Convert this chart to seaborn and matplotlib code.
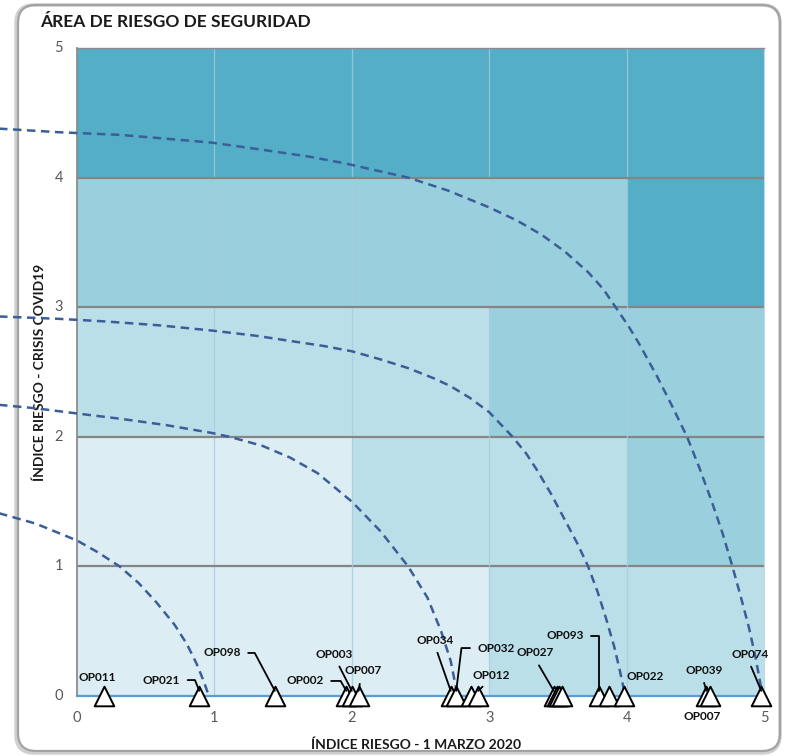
import matplotlib
matplotlib.use("Agg")
import matplotlib.pyplot as plt
import numpy as np
import pandas as pd
import seaborn as sns
from matplotlib.colors import ListedColormap
from matplotlib.patches import FancyBboxPatch

# ---------------- data ----------------
title = "ÁREA DE RIESGO DE SEGURIDAD"
x_label = "ÍNDICE RIESGO - 1 MARZO 2020"
y_label = "ÍNDICE RIESGO - CRISIS COVID19"
tick_values = [0, 1, 2, 3, 4, 5]

# risk level of each cell, rows from bottom (y 0-1) to top (y 4-5), columns x 0-1 ... 4-5
risk_levels = [
    [0, 0, 0, 1, 1],
    [0, 0, 1, 1, 2],
    [1, 1, 1, 2, 2],
    [2, 2, 2, 2, 3],
    [3, 3, 3, 3, 3],
]
level_colors = ["#DCEDF4", "#BBDFE9", "#9AD0DE", "#54AEC8"]

# operations (triangles), all with COVID index 0
op_labels = ["OP011", "OP021", "OP098", "OP002", "OP003", "OP007",
             "OP034", "OP032", "", "OP012",
             "OP027", "", "", "",
             "OP093", "", "OP022",
             "OP039", "OP007", "OP074"]
op_x = [0.20, 0.89, 1.44, 1.96, 2.00, 2.05,
        2.72, 2.76, 2.87, 2.92,
        3.47, 3.49, 3.51, 3.53,
        3.80, 3.87, 3.98,
        4.58, 4.61, 4.98]
op_y = [0.0] * len(op_x)

# iso-risk dashed curves
curve1_x = [-0.60, -0.13, 0.31, 0.65, 0.98, 1.38, 1.70, 1.95, 2.20, 2.41, 2.70, 3.00, 3.20, 3.38,
            3.55, 3.72, 3.83, 3.92, 4.01, 4.09, 4.22, 4.33, 4.44, 4.53, 4.62, 4.70, 4.77, 4.83,
            4.89, 4.94, 4.99]
curve1_y = [4.38, 4.35, 4.33, 4.30, 4.27, 4.21, 4.16, 4.11, 4.05, 4.00, 3.90, 3.77, 3.67, 3.56,
            3.43, 3.27, 3.14, 3.00, 2.86, 2.72, 2.47, 2.24, 2.00, 1.76, 1.50, 1.25, 1.00, 0.77,
            0.53, 0.29, 0.00]
curve2_x = [-0.60, -0.13, 0.21, 0.60, 0.98, 1.30, 1.55, 1.80, 2.00, 2.20, 2.41, 2.60, 2.72, 2.86,
            3.00, 3.17, 3.27, 3.35, 3.45, 3.55, 3.64, 3.72, 3.79, 3.85, 3.91, 3.95, 3.99]
curve2_y = [2.93, 2.91, 2.89, 2.86, 2.82, 2.78, 2.74, 2.70, 2.66, 2.60, 2.53, 2.45, 2.39, 2.30,
            2.19, 2.00, 1.87, 1.74, 1.56, 1.36, 1.18, 1.00, 0.80, 0.60, 0.38, 0.20, 0.00]
curve3_x = [-0.60, -0.30, 0.00, 0.31, 0.65, 0.98, 1.11, 1.35, 1.55, 1.75, 2.00, 2.21, 2.41, 2.55,
            2.65, 2.72, 2.77]
curve3_y = [2.25, 2.22, 2.18, 2.14, 2.09, 2.03, 2.00, 1.93, 1.84, 1.72, 1.50, 1.27, 1.00, 0.76,
            0.50, 0.27, 0.00]
curve4_x = [-0.60, -0.30, 0.00, 0.15, 0.31, 0.45, 0.58, 0.71, 0.80, 0.87, 0.92, 0.96]
curve4_y = [1.42, 1.33, 1.20, 1.11, 1.00, 0.87, 0.72, 0.55, 0.40, 0.25, 0.12, 0.00]

# ---------------- layout (label placement) ----------------
# index: (text x, text y, connection style or None, relpos)
label_layout = {
    0: (0.146, 0.139, None, None),
    1: (0.615, 0.123, "angle,angleA=0,angleB=112,rad=0", (1.0, 0.5)),
    2: (1.055, 0.332, "angle,angleA=0,angleB=118,rad=0", (1.0, 0.5)),
    3: (1.660, 0.116, "angle,angleA=0,angleB=120,rad=0", (1.0, 0.5)),
    4: (1.870, 0.324, "arc3", (0.55, 0.0)),
    5: (2.080, 0.193, "arc3", (0.45, 0.0)),
    6: (2.605, 0.432, "arc3", (0.5, 0.0)),
    7: (3.050, 0.370, "angle,angleA=0,angleB=83,rad=0", (0.0, 0.5)),
    9: (3.013, 0.162, "arc3", (0.45, 0.0)),
    10: (3.333, 0.332, "arc3", (0.5, 0.0)),
    14: (3.552, 0.463, "angle,angleA=0,angleB=90,rad=0", (1.0, 0.5)),
    16: (4.134, 0.147, None, None),
    17: (4.563, 0.200, "arc3", (0.45, 0.0)),
    18: (4.549, -0.162, None, None),
    19: (4.898, 0.324, "arc3", (0.45, 0.0)),
}

# ---------------- figure ----------------
sns.set_style("white")
plt.rcParams["font.family"] = ["Lato", "DejaVu Sans"]
plt.rcParams["lines.dashed_pattern"] = [3.4, 2.2]

W, H = 785, 756
fig = plt.figure(figsize=(W / 100, H / 100), dpi=100)
ax = fig.add_axes([77 / W, (H - 696) / H, (764 - 77) / W, (696 - 48) / H])

# rounded chart border with a faint shadow
shadow = FancyBboxPatch((16, 3), 764, 748, boxstyle="round,pad=0,rounding_size=18",
                        transform=None, facecolor="none", edgecolor="#D0D0D0",
                        linewidth=2.5, zorder=-2)
fig.patches.append(shadow)
border = FancyBboxPatch((18, 5), 762, 746, boxstyle="round,pad=0,rounding_size=18",
                        transform=None, facecolor="none", edgecolor="#A3A3A3",
                        linewidth=1.6, zorder=-1)
fig.patches.append(border)

# risk matrix
grid = pd.DataFrame(risk_levels, columns=tick_values[:-1], index=tick_values[:-1])
sns.heatmap(grid, ax=ax, cmap=ListedColormap(level_colors), vmin=-0.5, vmax=3.5,
            cbar=False, linewidths=0)
ax.set_xlim(0, 5)
ax.set_ylim(0, 5)

for v in tick_values[1:-1]:
    ax.axvline(v, color="#A8CCE0", lw=0.9, alpha=0.8, zorder=2)
    ax.axhline(v, color="#858585", lw=1.6, zorder=2)

for side in ["left", "top", "right", "bottom"]:
    ax.spines[side].set_visible(True)
ax.spines["left"].set_color("#8C8C8C")
ax.spines["left"].set_linewidth(1.3)
ax.spines["top"].set_color("#8C8C8C")
ax.spines["top"].set_linewidth(1.0)
ax.spines["right"].set_color("#BFD9E8")
ax.spines["right"].set_linewidth(0.8)
ax.spines["bottom"].set_color("#5B9BD5")
ax.spines["bottom"].set_linewidth(1.6)

# dashed iso-risk curves
for cx, cy in [(curve1_x, curve1_y), (curve2_x, curve2_y), (curve3_x, curve3_y), (curve4_x, curve4_y)]:
    sns.lineplot(x=cx, y=cy, ax=ax, sort=False, estimator=None, color="#3B5E98",
                 lw=1.8, linestyle="--", clip_on=False, zorder=3)

# triangles
sns.scatterplot(x=op_x, y=op_y, ax=ax, marker="^", s=200, color="white",
                edgecolor="black", linewidth=1.4, clip_on=False, zorder=4)

# labels
for i, (tx, ty, conn, rel) in label_layout.items():
    if conn is None:
        ax.text(tx, ty, op_labels[i], ha="center", va="center", fontsize=8.5,
                fontweight="bold", color="#111111", zorder=6)
    else:
        ax.annotate(op_labels[i], xy=(op_x[i], 0.04), xytext=(tx, ty),
                    textcoords="data", ha="center", va="center", fontsize=8.5,
                    fontweight="bold", color="#111111", zorder=6,
                    annotation_clip=False,
                    arrowprops=dict(arrowstyle="-", color="black", lw=1.3,
                                    connectionstyle=conn, relpos=rel,
                                    shrinkA=3, shrinkB=0))

# ticks
ax.set_xticks(tick_values)
ax.set_xticklabels([str(t) for t in tick_values])
ax.set_yticks(tick_values)
ax.set_yticklabels([str(t) for t in tick_values], rotation=0)
ax.tick_params(axis="x", length=0, pad=11, labelsize=10.5, labelcolor="#595959")
ax.tick_params(axis="y", length=0, pad=10, labelsize=10.5, labelcolor="#595959")

ax.set_xlabel(x_label, fontsize=10, fontweight="bold", color="#1A1A1A", va="center")
ax.xaxis.set_label_coords(0.493, -0.0756)
ax.set_ylabel(y_label, fontsize=10, fontweight="bold", color="#1A1A1A", va="center")
ax.yaxis.set_label_coords(-0.054, 0.5)

fig.text(40 / W, 1 - 22 / H, title, ha="left", va="center", fontsize=12.5,
         fontweight="bold", color="#1A1A1A")

fig.savefig("out.png", dpi=100)
